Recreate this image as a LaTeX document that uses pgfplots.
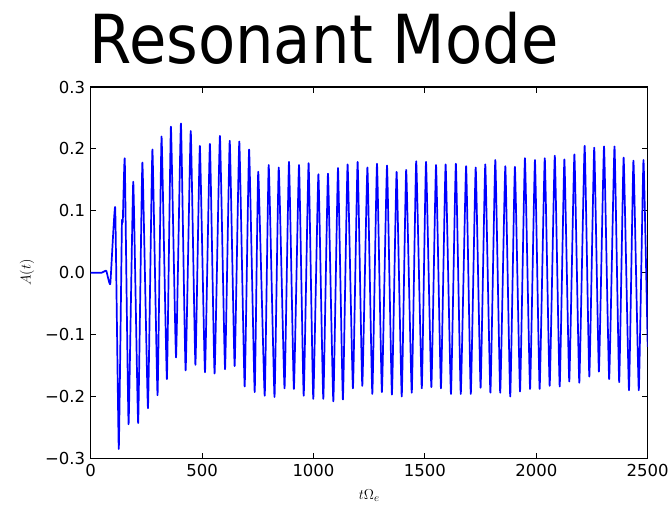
\documentclass[border=0pt]{standalone}
\usepackage{pgfplots}
\pgfplotsset{compat=1.18}
\usepackage{fontspec}
\setmainfont{DejaVu Sans}
\newfontfamily\titlefont[FakeStretch=0.9]{DejaVu Sans}
\pgfplotstableread{
t A
0 0
50 0
70 0.003
88 -0.018
110 0.105
126 -0.285
140 0.077
144 0.082
153 0.183
170 -0.245
191 0.147
213 -0.243
232 0.178
257 -0.219
277 0.199
300 -0.198
318 0.220
342 -0.172
360 0.236
383 -0.137
405 0.241
426 -0.158
449 0.229
470 -0.149
490 0.205
513 -0.161
535 0.208
556 -0.163
580 0.221
603 -0.156
624 0.213
646 -0.151
667 0.212
691 -0.184
711 0.199
736 -0.193
752 0.163
781 -0.199
799 0.174
825 -0.201
844 0.170
870 -0.187
890 0.179
912 -0.188
935 0.174
956 -0.199
978 0.177
999 -0.204
1022 0.159
1044 -0.204
1065 0.160
1089 -0.208
1110 0.169
1132 -0.205
1153 0.175
1177 -0.187
1198 0.179
1219 -0.183
1242 0.170
1264 -0.196
1285 0.176
1307 -0.193
1330 0.173
1352 -0.197
1373 0.163
1396 -0.200
1416 0.166
1441 -0.194
1461 0.180
1486 -0.187
1505 0.179
1529 -0.185
1550 0.174
1572 -0.187
1593 0.175
1617 -0.196
1639 0.176
1661 -0.196
1685 0.172
1706 -0.196
1728 0.170
1750 -0.186
1771 0.175
1794 -0.194
1816 0.182
1838 -0.194
1861 0.172
1883 -0.200
1904 0.171
1927 -0.192
1949 0.185
1972 -0.188
1994 0.182
2015 -0.188
2038 0.185
2060 -0.183
2083 0.189
2105 -0.184
2126 0.183
2148 -0.176
2171 0.191
2193 -0.178
2217 0.205
2238 -0.168
2260 0.202
2281 -0.160
2304 0.204
2327 -0.172
2351 0.204
2372 -0.177
2392 0.186
2416 -0.190
2436 0.181
2460 -0.190
2481 0.182
2500 -0.12
}\datatable
\begin{document}
\begin{tikzpicture}
\useasboundingbox (-90.7bp,-46.7bp) rectangle (577.3bp,458.3bp);
\begin{axis}[
  at={(0,0)}, anchor=south west,
  width=557bp, height=371.3bp, scale only axis,
  xmin=0, xmax=2500, ymin=-0.3, ymax=0.3,
  xtick={0,500,1000,1500,2000,2500},
  xticklabels={0,500,1000,1500,2000,2500},
  ytick={-0.3,-0.2,-0.1,0,0.1,0.2,0.3},
  yticklabels={−0.3,−0.2,−0.1,0.0,0.1,0.2,0.3},
  tick align=inside,
  major tick length=5.6bp,
  tick style={black, line width=0.9bp},
  axis line style={line width=1.2bp},
  ticklabel style={font=\fontsize{16.5bp}{19bp}\selectfont},
  xticklabel style={yshift=-2bp},
  yticklabel style={xshift=-2bp},
  xlabel={$t\Omega_e$},
  ylabel={$A(t)$},
  label style={font=\fontsize{15bp}{18bp}\selectfont},
  xlabel style={at={(axis description cs:0.5,-0.101)}, anchor=center},
  ylabel style={at={(axis description cs:-0.1144,0.5)}, anchor=center},
  clip=true,
]
\addplot[color={rgb,1:red,0;green,0;blue,1}, line width=1.7bp, line join=round, smooth, tension=0.2] table[x=t, y=A] {\datatable};
\end{axis}
\node[anchor=base west, inner sep=0pt, font=\titlefont\fontsize{67.6bp}{76bp}\selectfont] at (-1.5bp,395bp) {Resonant Mode};
\end{tikzpicture}
\end{document}
